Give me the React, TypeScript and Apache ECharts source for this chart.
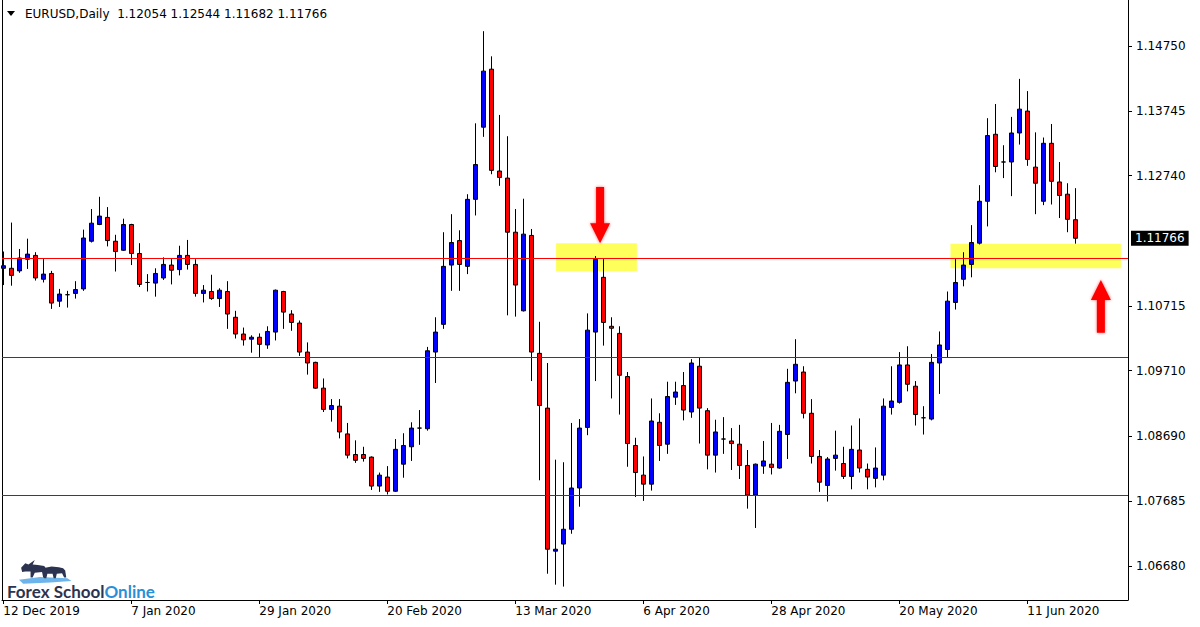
import React, { useEffect, useRef } from 'react';
import * as echarts from 'echarts';

// ---- Data (EURUSD, Daily) ----
const openP = [
  1.1130, 1.1130, 1.1126, 1.1144, 1.1150, 1.1113, 1.1122, 1.1079, 1.1089, 1.1091,
  1.1098, 1.1172, 1.1198, 1.1209, 1.1172, 1.1158, 1.1198, 1.1153, 1.1108, 1.1107,
  1.1115, 1.1135, 1.1128, 1.1150, 1.1136, 1.1091, 1.1094, 1.1083, 1.1094, 1.1054,
  1.1028, 1.1020, 1.1023, 1.1011, 1.1031, 1.1094, 1.1059, 1.1045, 1.1000, 1.0984,
  1.0944, 1.0911, 1.0916, 1.0873, 1.0841, 1.0841, 1.0837, 1.0792, 1.0806, 1.0784,
  1.0826, 1.0853, 1.0882, 1.0881, 1.1000, 1.1043, 1.1135, 1.1173, 1.1133, 1.1237,
  1.1349, 1.1439, 1.1281, 1.1270, 1.1186, 1.1064, 1.1181, 1.0998, 1.0913, 1.0691,
  1.0702, 1.0725, 1.0789, 1.0883, 1.1031, 1.1116, 1.1040, 1.1029, 1.0962, 1.0855,
  1.0809, 1.0795, 1.0891, 1.0857, 1.0930, 1.0948, 1.0907, 1.0978, 1.0909, 1.0840,
  1.0865, 1.0862, 1.0857, 1.0824, 1.0778, 1.0823, 1.0826, 1.0820, 1.0872, 1.0955,
  1.0969, 1.0905, 1.0838, 1.0793, 1.0835, 1.0827, 1.0807, 1.0848, 1.0818, 1.0804,
  1.0809, 1.0914, 1.0922, 1.0980, 1.0947, 1.0898, 1.0896, 1.0983, 1.1004, 1.1077,
  1.1113, 1.1136, 1.1169, 1.1234, 1.1338, 1.1295, 1.1295, 1.1340, 1.1374, 1.1287,
  1.1234, 1.1324, 1.1264, 1.1245, 1.12054,
];
const highP = [
  1.1156, 1.1201, 1.1160, 1.1176, 1.1155, 1.1146, 1.1126, 1.1098, 1.1095, 1.1110,
  1.1190, 1.1222, 1.1241, 1.1225, 1.1182, 1.1207, 1.1199, 1.1169, 1.1121, 1.1130,
  1.1147, 1.1146, 1.1165, 1.1174, 1.1144, 1.1104, 1.1120, 1.1099, 1.1110, 1.1064,
  1.1038, 1.1026, 1.1029, 1.1040, 1.1097, 1.1095, 1.1065, 1.1049, 1.1015, 1.0985,
  1.0959, 1.0927, 1.0927, 1.0890, 1.0863, 1.0853, 1.0838, 1.0813, 1.0823, 1.0865,
  1.0874, 1.0891, 1.0910, 1.1008, 1.1054, 1.1186, 1.1214, 1.1189, 1.1245, 1.1355,
  1.1498, 1.1459, 1.1368, 1.1335, 1.1222, 1.1238, 1.1191, 1.1047, 1.0983, 1.0833,
  1.0829, 1.0890, 1.0896, 1.1060, 1.1149, 1.1146, 1.1054, 1.1040, 1.0969, 1.0867,
  1.0838, 1.0928, 1.0905, 1.0954, 1.0954, 1.0969, 1.0989, 1.0992, 1.0913, 1.0895,
  1.0899, 1.0882, 1.0887, 1.0848, 1.0827, 1.0862, 1.0890, 1.0887, 1.0974, 1.1020,
  1.0978, 1.0927, 1.0848, 1.0837, 1.0878, 1.0853, 1.0886, 1.0897, 1.0827, 1.0852,
  1.0928, 1.0978, 1.1000, 1.1009, 1.0955, 1.0916, 1.0997, 1.1032, 1.1094, 1.1146,
  1.1155, 1.1197, 1.1259, 1.1363, 1.1385, 1.1321, 1.1365, 1.1424, 1.1405, 1.1341,
  1.1333, 1.1354, 1.1295, 1.1262, 1.12544,
];
const lowP = [
  1.1104, 1.1103, 1.1123, 1.1129, 1.1111, 1.1108, 1.1067, 1.1070, 1.1069, 1.1083,
  1.1095, 1.1170, 1.1197, 1.1164, 1.1125, 1.1157, 1.1135, 1.1101, 1.1094, 1.1086,
  1.1112, 1.1105, 1.1119, 1.1128, 1.1086, 1.1077, 1.1081, 1.1070, 1.1036, 1.1021,
  1.1010, 1.0999, 1.0992, 1.1005, 1.1018, 1.1036, 1.1033, 1.0994, 1.0965, 1.0943,
  1.0907, 1.0892, 1.0866, 1.0835, 1.0828, 1.0830, 1.0786, 1.0783, 1.0779, 1.0783,
  1.0805, 1.0831, 1.0856, 1.0878, 1.0952, 1.1036, 1.1095, 1.1095, 1.1121, 1.1212,
  1.1334, 1.1276, 1.1258, 1.1057, 1.1055, 1.1063, 1.0955, 1.0801, 1.0656, 1.0639,
  1.0636, 1.0718, 1.0760, 1.0871, 1.0955, 1.1010, 1.0928, 1.0903, 1.0822, 1.0775,
  1.0769, 1.0785, 1.0831, 1.0842, 1.0918, 1.0894, 1.0898, 1.0858, 1.0818, 1.0813,
  1.0842, 1.0817, 1.0803, 1.0757, 1.0727, 1.0811, 1.0810, 1.0819, 1.0834, 1.0936,
  1.0897, 1.0827, 1.0783, 1.0768, 1.0816, 1.0803, 1.0787, 1.0813, 1.0787, 1.0790,
  1.0801, 1.0903, 1.0920, 1.0939, 1.0886, 1.0872, 1.0894, 1.0935, 1.0992, 1.1066,
  1.1102, 1.1116, 1.1167, 1.1195, 1.1279, 1.1270, 1.1242, 1.1322, 1.1289, 1.1214,
  1.1228, 1.1229, 1.1208, 1.1186, 1.11682,
];
const closeP = [
  1.1134, 1.1119, 1.1146, 1.1152, 1.1115, 1.1121, 1.1076, 1.1090, 1.1089, 1.1097,
  1.1177, 1.1200, 1.1211, 1.1173, 1.1156, 1.1198, 1.1153, 1.1105, 1.1108, 1.1122,
  1.1136, 1.1127, 1.1150, 1.1136, 1.1091, 1.1096, 1.1083, 1.1096, 1.1059, 1.1028,
  1.1019, 1.1023, 1.1012, 1.1032, 1.1096, 1.1062, 1.1046, 1.1000, 1.0983, 1.0944,
  1.0911, 1.0917, 1.0876, 1.0840, 1.0832, 1.0835, 1.0792, 1.0809, 1.0784, 1.0849,
  1.0855, 1.0882, 1.0882, 1.1002, 1.1031, 1.1133, 1.1170, 1.1136, 1.1237, 1.1291,
  1.1436, 1.1282, 1.1271, 1.1186, 1.1104, 1.1183, 1.1000, 1.0917, 1.0694, 1.0694,
  1.0725, 1.0789, 1.0882, 1.1034, 1.1144, 1.1046, 1.1037, 1.0964, 1.0858, 1.0813,
  1.0795, 1.0893, 1.0855, 1.0931, 1.0938, 1.0910, 1.0983, 1.0913, 1.0840, 1.0876,
  1.0865, 1.0858, 1.0824, 1.0778, 1.0826, 1.0831, 1.0821, 1.0877, 1.0953, 1.0981,
  1.0905, 1.0838, 1.0798, 1.0834, 1.0840, 1.0807, 1.0849, 1.0820, 1.0806, 1.0820,
  1.0916, 1.0924, 1.0980, 1.0950, 1.0903, 1.0898, 1.0984, 1.1011, 1.1079, 1.1108,
  1.1135, 1.1170, 1.1234, 1.1336, 1.1288, 1.1295, 1.1340, 1.1377, 1.1299, 1.1262,
  1.1324, 1.1265, 1.1243, 1.1206, 1.11766,
];

const xLabelIndex = [0, 16, 32, 48, 64, 80, 96, 112, 128];
const xLabelText = [
  '12 Dec 2019', '7 Jan 2020', '29 Jan 2020', '20 Feb 2020', '13 Mar 2020',
  '6 Apr 2020', '28 Apr 2020', '20 May 2020', '11 Jun 2020',
];
const yTickValues = [1.1475, 1.13745, 1.1274, 1.10715, 1.0971, 1.0869, 1.07685, 1.0668];
const levelLines = [1.1146, 1.0992, 1.0778];
const currentPrice = 1.11766;
// zones: [xStart, xEnd, priceTop, priceBottom]
const zones = [
  [69.1, 79.2, 1.1169, 1.1126],
  [118.4, 139.7, 1.1168, 1.1130],
];
// arrows: bar position, tip price, tail price
const arrowX = [74.6, 137.2];
const arrowTip = [1.1169, 1.1112];
const arrowTail = [1.1256, 1.1030];

const X_MIN = -0.16;
const X_MAX = 140.59;
const Y_MIN = 1.06152;
const Y_MAX = 1.15464;

const FONT = 'DejaVu Sans';

export default function App() {
  const ref = useRef<HTMLDivElement>(null);

  useEffect(() => {
    document.body.style.margin = '0';
    if (!ref.current) return;
    const chart = echarts.init(ref.current, undefined, { renderer: 'svg' });

    const data = openP.map((o, i) => [i, o, closeP[i], lowP[i], highP[i]]);
    const n = openP.length - 1;
    const header =
      'EURUSD,Daily  ' +
      [openP[n], highP[n], lowP[n], closeP[n]].map((v) => v.toFixed(5)).join(' ');

    const option: any = {
      animation: false,
      backgroundColor: '#ffffff',
      textStyle: { fontFamily: FONT },
      grid: { left: 2, right: 72, top: 0, bottom: 27, containLabel: false },
      xAxis: {
        type: 'value',
        min: X_MIN,
        max: X_MAX,
        axisLine: { show: true, onZero: false, lineStyle: { color: '#000', width: 1 } },
        axisTick: {
          show: true,
          customValues: xLabelIndex,
          length: 4,
          lineStyle: { color: '#000' },
        },
        axisLabel: {
          show: true,
          customValues: xLabelIndex,
          formatter: (v: number) => {
            const k = xLabelIndex.indexOf(Math.round(v));
            return k >= 0 ? xLabelText[k] : '';
          },
          align: 'left',
          color: '#000',
          fontSize: 12,
          fontFamily: FONT,
          margin: 5,
        },
        splitLine: { show: false },
      },
      yAxis: [
        {
          type: 'value',
          position: 'right',
          min: Y_MIN,
          max: Y_MAX,
          axisLine: { show: true, onZero: false, lineStyle: { color: '#000' } },
          axisTick: {
            show: true,
            customValues: yTickValues,
            length: 4,
            lineStyle: { color: '#000' },
          },
          axisLabel: {
            customValues: yTickValues,
            formatter: (v: number) => v.toFixed(5),
            color: '#000',
            fontSize: 12,
            fontFamily: FONT,
            margin: 8,
          },
          splitLine: { show: false },
        },
        {
          type: 'value',
          position: 'left',
          min: Y_MIN,
          max: Y_MAX,
          axisLine: { show: true, onZero: false, lineStyle: { color: '#000' } },
          axisTick: { show: false },
          axisLabel: { show: false },
          splitLine: { show: false },
        },
      ],
      series: [
        {
          type: 'line',
          xAxisIndex: 0,
          yAxisIndex: 0,
          data: [],
          silent: true,
          z: 1,
          markLine: {
            silent: true,
            precision: 5,
            symbol: ['none', 'none'],
            data: [
              ...levelLines.map((v, i) => ({
                yAxis: v,
                lineStyle: { color: i === 0 ? '#ff0000' : '#d40000', width: 1, type: 'solid' },
                label: { show: false },
              })),
              {
                yAxis: currentPrice,
                lineStyle: { color: 'rgba(0,0,0,0)', width: 1 },
                label: {
                  show: true,
                  position: 'end',
                  distance: 3,
                  formatter: currentPrice.toFixed(5),
                  backgroundColor: '#000',
                  color: '#fff',
                  padding: [2, 4, 1, 4],
                  fontSize: 12,
                  fontFamily: FONT,
                },
              },
            ],
          },
        },
        {
          type: 'candlestick',
          xAxisIndex: 0,
          yAxisIndex: 0,
          barWidth: 5,
          z: 3,
          data,
          itemStyle: {
            color: '#0000ff',
            color0: '#ff0000',
            borderColor: '#000000',
            borderColor0: '#000000',
            borderColorDoji: '#000000',
            borderWidth: 1,
          },
          markArea: {
            silent: true,
            itemStyle: { color: '#ffff5c' },
            data: zones.map((z) => [
              { xAxis: z[0], yAxis: z[2] },
              { xAxis: z[1], yAxis: z[3] },
            ]),
          },
        },
      ],
    };

    chart.setOption(option);

    const px = (x: number, y: number) =>
      chart.convertToPixel({ xAxisIndex: 0, yAxisIndex: 0 }, [x, y]) as number[];

    const arrowEls = arrowX.map((ax, i) => {
      const tip = px(ax, arrowTip[i]);
      const tail = px(ax, arrowTail[i]);
      const cx = tip[0];
      const dir = tail[1] > tip[1] ? 1 : -1;
      const base = tip[1] + dir * 20;
      return {
        type: 'polygon',
        shape: {
          points: [
            [cx - 4, tail[1]],
            [cx + 4, tail[1]],
            [cx + 4, base],
            [cx + 10, base],
            [cx, tip[1]],
            [cx - 10, base],
            [cx - 4, base],
          ],
        },
        style: { fill: '#ff0000', shadowBlur: 3, shadowColor: 'rgba(255,0,0,0.6)' },
        z: 100,
      };
    });

    const logo = {
      type: 'group',
      x: 19,
      y: 560,
      scaleX: 1.05,
      scaleY: 1.1,
      children: [
        {
          type: 'polygon',
          shape: {
            points: [[0, 18], [20, 15.5], [46, 16.5], [50, 19], [30, 20.5], [4, 21.5]],
          },
          style: { fill: '#6cb4ea' },
        },
        {
          type: 'polygon',
          shape: {
            points: [
              [2, 7], [6, 3], [9, 4], [12, 2], [15, 0], [13, 4], [18, 4.5], [24, 5.5],
              [26, 8], [25, 16], [23, 16], [22, 11], [15, 11.5], [13, 16], [11, 16],
              [11, 10.5], [6, 10.5], [3, 11],
            ],
          },
          style: { fill: '#2c3350' },
        },
        {
          type: 'polygon',
          shape: {
            points: [
              [22, 10], [25, 7], [31, 6], [38, 6.5], [42, 7.5], [44, 9.5], [45, 16],
              [43, 16], [41, 12], [36, 12.5], [35, 16.5], [33, 16.5], [32, 12.5],
              [27, 12.5], [26, 16.5], [24, 16.5], [23, 12.5],
            ],
          },
          style: { fill: '#2c3350' },
        },
      ],
    };

    chart.setOption({
      graphic: [
        {
          type: 'polygon',
          shape: { points: [[7, 11], [15, 11], [11, 16]] },
          style: { fill: '#000' },
        },
        {
          type: 'text',
          x: 25,
          y: 14,
          style: {
            text: header,
            fill: '#000',
            font: `12px "${FONT}"`,
            verticalAlign: 'middle',
          },
        },
        ...arrowEls,
        logo,
        {
          type: 'text',
          x: 7,
          y: 591,
          style: {
            text: '{a|Forex School}{b|Online}',
            verticalAlign: 'middle',
            rich: {
              a: { fill: '#2c3350', fontSize: 17, fontFamily: 'Lato', fontWeight: 'bold' },
              b: { fill: '#2a8fd6', fontSize: 17, fontFamily: 'Lato', fontWeight: 'bold' },
            },
          },
        },
      ],
    });

    return () => chart.dispose();
  }, []);

  return <div ref={ref} style={{ width: 1200, height: 627 }} />;
}
